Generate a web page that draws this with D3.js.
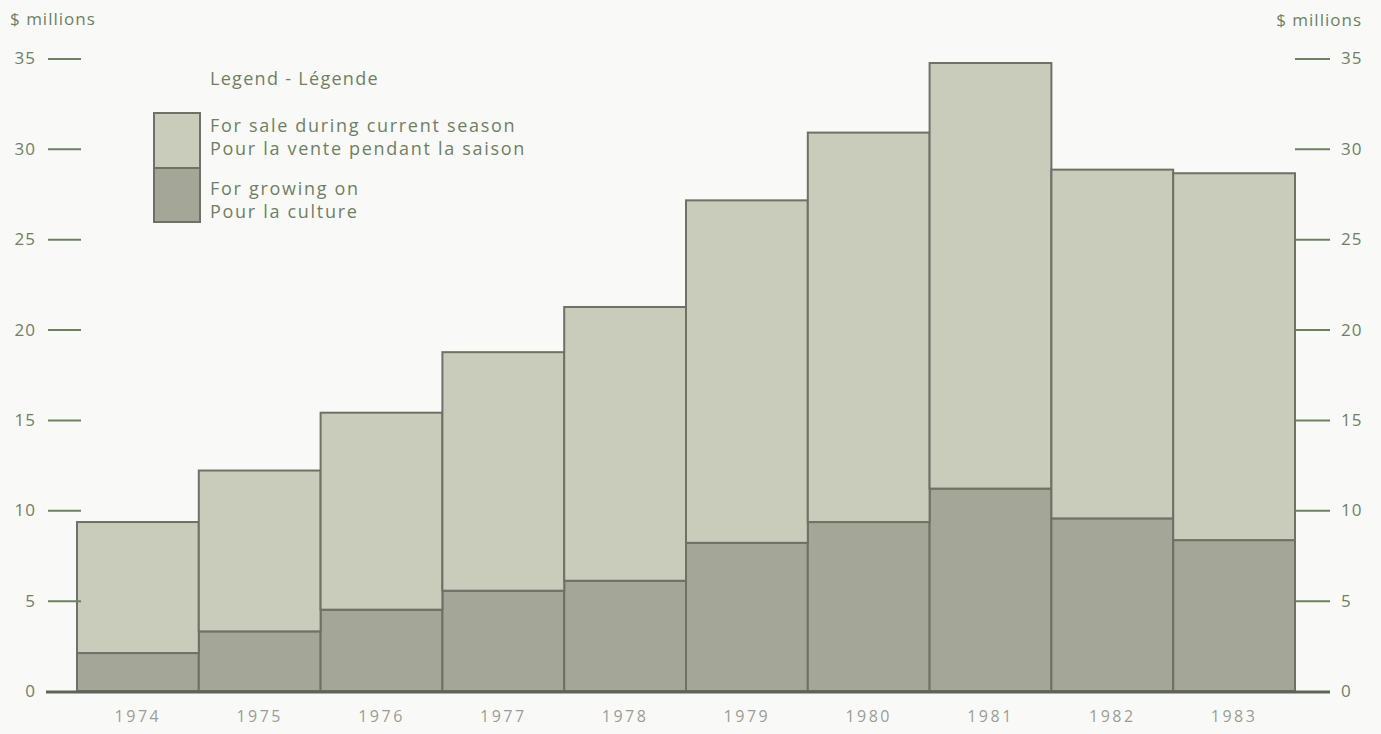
<!DOCTYPE html>
<html>
<head>
<meta charset="utf-8">
<script src="https://cdn.jsdelivr.net/npm/d3@7/dist/d3.min.js"></script>
<style>
  html, body { margin: 0; padding: 0; background: #f9faf7; }
  svg { display: block; }
  text { font-family: "Open Sans", "Noto Sans", sans-serif; }
</style>
</head>
<body>
<svg id="chart" width="1381" height="734"></svg>
<script>
const years = ["1974","1975","1976","1977","1978","1979","1980","1981","1982","1983"];
const growingOn = [2.1, 3.3, 4.5, 5.55, 6.1, 8.2, 9.35, 11.2, 9.55, 8.35];
const forSale   = [7.25, 8.9, 10.9, 13.2, 15.15, 18.95, 21.55, 23.55, 19.3, 20.3];
const yTicks = [0, 5, 10, 15, 20, 25, 30, 35];
const unitLabel = "$ millions";
const legendTitle = "Legend - Légende";
const legendSale = ["For sale during current season", "Pour la vente pendant la saison"];
const legendGrow = ["For growing on", "Pour la culture"];

const colSale = "#c9cbbb";
const colGrow = "#a4a698";
const colStroke = "#6e7165";
const colText = "#6f7f64";

const svg = d3.select("#chart");
const x = d3.scaleBand().domain(years).range([77, 1295]).padding(0);
const y = d3.scaleLinear().domain([0, 35]).range([691, 58.5]);

const rows = years.map((yr, i) => ({ yr, grow: growingOn[i], sale: forSale[i] }));
const stack = d3.stack().keys(["grow", "sale"])(rows);
const fills = { grow: colGrow, sale: colSale };

svg.append("g").selectAll("g").data(stack).join("g")
  .attr("fill", d => fills[d.key])
  .selectAll("rect").data(d => d).join("rect")
  .attr("x", d => x(d.data.yr))
  .attr("width", x.bandwidth())
  .attr("y", d => y(d[1]))
  .attr("height", d => y(d[0]) - y(d[1]))
  .attr("stroke", colStroke)
  .attr("stroke-width", 2);

// left axis
const leftAxis = svg.append("g").attr("transform", "translate(81,0)")
  .call(d3.axisLeft(y).tickValues(yTicks).tickSize(33).tickPadding(12).tickFormat(d3.format("d")));
leftAxis.select(".domain").remove();
leftAxis.selectAll(".tick line").attr("stroke", colText).attr("stroke-width", 2)
  .attr("display", d => d === 0 ? "none" : null);
leftAxis.selectAll(".tick text").attr("fill", colText).attr("font-size", 17)
  .attr("letter-spacing", "1px").attr("font-family", "'Open Sans', sans-serif");

// right axis
const rightAxis = svg.append("g").attr("transform", "translate(1295,0)")
  .call(d3.axisRight(y).tickValues(yTicks).tickSize(35).tickPadding(11).tickFormat(d3.format("d")));
rightAxis.select(".domain").remove();
rightAxis.selectAll(".tick line").attr("stroke", colText).attr("stroke-width", 2)
  .attr("display", d => d === 0 ? "none" : null);
rightAxis.selectAll(".tick text").attr("fill", colText).attr("font-size", 17)
  .attr("letter-spacing", "1px").attr("font-family", "'Open Sans', sans-serif");

// baseline
svg.append("line").attr("x1", 46).attr("x2", 1330).attr("y1", y(0) + 1).attr("y2", y(0) + 1)
  .attr("stroke", "#5f6357").attr("stroke-width", 3);

// x axis labels
const xAxis = svg.append("g").attr("transform", `translate(0,${y(0)})`)
  .call(d3.axisBottom(x).tickSize(0).tickPadding(20));
xAxis.select(".domain").remove();
xAxis.selectAll(".tick text").attr("fill", "#9a9d96").attr("font-size", 16)
  .attr("letter-spacing", "2.5px").attr("font-family", "'Open Sans', sans-serif");

// unit labels
svg.append("text").attr("x", 10).attr("y", 25).attr("fill", colText).attr("font-size", 17)
  .attr("letter-spacing", "1px").text(unitLabel);
svg.append("text").attr("x", 1362).attr("y", 26).attr("text-anchor", "end").attr("fill", colText)
  .attr("font-size", 17).attr("letter-spacing", "1px").text(unitLabel);

// legend
const lg = svg.append("g");
lg.append("text").attr("x", 210).attr("y", 85).attr("fill", colText).attr("font-size", 18)
  .attr("letter-spacing", "1.3px").text(legendTitle);
lg.append("rect").attr("x", 154).attr("y", 113).attr("width", 46).attr("height", 55)
  .attr("fill", colSale).attr("stroke", colStroke).attr("stroke-width", 2);
lg.append("rect").attr("x", 154).attr("y", 168).attr("width", 46).attr("height", 54)
  .attr("fill", colGrow).attr("stroke", colStroke).attr("stroke-width", 2);
legendSale.forEach((t, i) => lg.append("text").attr("x", 210).attr("y", 132 + i * 23)
  .attr("fill", colText).attr("font-size", 18).attr("letter-spacing", "1.7px").text(t));
legendGrow.forEach((t, i) => lg.append("text").attr("x", 210).attr("y", 195 + i * 23)
  .attr("fill", colText).attr("font-size", 18).attr("letter-spacing", "1.7px").text(t));
</script>
</body>
</html>
